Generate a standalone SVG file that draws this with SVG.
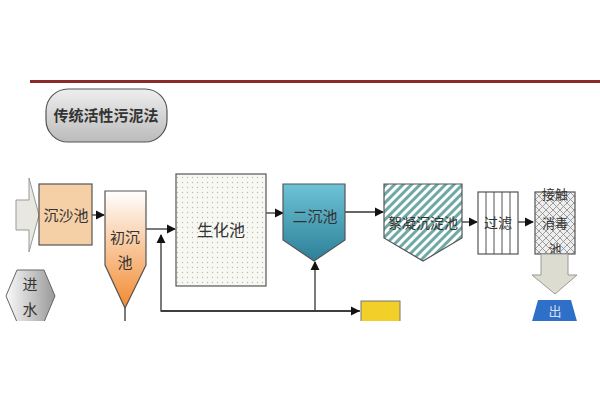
<svg xmlns="http://www.w3.org/2000/svg" width="600" height="400" viewBox="0 0 600 400">
<style>
text{font-family:"Noto Sans CJK SC","Liberation Sans",sans-serif;fill:#333;text-anchor:middle}
.ln{stroke:#333;stroke-width:1.3;fill:none}
.bx{stroke:#555;stroke-width:1.2}
</style>
<defs>
<marker id="ah" viewBox="0 0 10 10" refX="9" refY="5" markerWidth="7" markerHeight="7" orient="auto"><path d="M0,0L10,5L0,10z" fill="#111"/></marker>
<pattern id="dots" width="5" height="5" patternUnits="userSpaceOnUse"><rect width="5" height="5" fill="#f8f8f2"/><circle cx="2.5" cy="2.5" r="0.7" fill="#bbb"/></pattern>
<pattern id="hatch" width="6" height="6" patternUnits="userSpaceOnUse" patternTransform="rotate(45)"><rect width="6" height="6" fill="#fff"/><rect width="3" height="6" fill="#6fa9a6"/></pattern>
<pattern id="cross" width="7" height="7" patternUnits="userSpaceOnUse"><rect width="7" height="7" fill="#eee"/><path d="M0,0L7,7M7,0L0,7" stroke="#888" stroke-width="0.8"/></pattern>
<linearGradient id="og" x1="0" y1="0" x2="0" y2="1"><stop offset="0" stop-color="#fff"/><stop offset="1" stop-color="#f28a30"/></linearGradient>
<linearGradient id="bg" x1="0" y1="0" x2="0" y2="1"><stop offset="0" stop-color="#6ec3d6"/><stop offset="1" stop-color="#2c7f98"/></linearGradient>
<linearGradient id="gg" x1="0" y1="0" x2="0" y2="1"><stop offset="0" stop-color="#eee"/><stop offset="1" stop-color="#bbb"/></linearGradient>
<linearGradient id="hg" x1="0" y1="0" x2="1" y2="0"><stop offset="0" stop-color="#fafafa"/><stop offset="1" stop-color="#999"/></linearGradient>
</defs>
<rect width="600" height="400" fill="#fff"/>
<rect x="30" y="80" width="570" height="3" fill="#8b2a2a"/>
<g id="title"><rect x="46" y="89" width="121" height="53" rx="22" fill="url(#gg)" stroke="#555" stroke-width="1.2"/><text x="106" y="121" font-size="15" font-weight="bold">传统活性污泥法</text></g>
<g id="connectors">
<line class="ln" x1="92" y1="215" x2="104" y2="215" marker-end="url(#ah)"/>
<line class="ln" x1="146" y1="229" x2="175" y2="229" marker-end="url(#ah)"/>
<line class="ln" x1="125" y1="307" x2="125" y2="325"/>
<polyline class="ln" points="360,311 161,311 161,235" marker-end="url(#ah)"/>
<line class="ln" x1="161" y1="311" x2="359" y2="311" marker-end="url(#ah)"/>
<line class="ln" x1="315" y1="311" x2="315" y2="262" marker-end="url(#ah)"/>
<line class="ln" x1="266" y1="213" x2="283" y2="213" marker-end="url(#ah)"/>
<line class="ln" x1="345" y1="212" x2="383" y2="212" marker-end="url(#ah)"/>
<line class="ln" x1="462" y1="222" x2="477" y2="222" marker-end="url(#ah)"/>
<line class="ln" x1="518" y1="222" x2="533" y2="222" marker-end="url(#ah)"/>
</g>
<g id="inlet"><path d="M16,200H29V178L39,215L29,252V230H16Z" fill="#e8e8e0" stroke="#999"/></g>
<g id="sand"><rect class="bx" x="39" y="184" width="53" height="61" fill="#f5cfa6"/><text x="66" y="221" font-size="15">沉沙池</text></g>
<g id="primary"><path class="bx" d="M105,191H146V265L125,308L105,265Z" fill="url(#og)"/><text x="125" y="243" font-size="15">初沉</text><text x="125" y="268" font-size="15">池</text></g>
<g id="bio"><rect class="bx" x="176" y="174" width="90" height="112" fill="url(#dots)"/><text x="221" y="236" font-size="16">生化池</text></g>
<g id="secondary"><path class="bx" d="M283,184H345V240L314,261L283,240Z" fill="url(#bg)"/><text x="315" y="222" font-size="15">二沉池</text></g>
<g id="floc"><path class="bx" d="M384,184H462V238L423,261L384,238Z" fill="url(#hatch)"/><text x="423" y="228" font-size="14">絮凝沉淀池</text></g>
<g id="filter"><rect class="bx" x="478" y="192" width="40" height="62" fill="#fff"/><path d="M486,192V254M494,192V254M502,192V254M510,192V254" stroke="#555"/><text x="498" y="228" font-size="14">过滤</text></g>
<g id="disinfect"><rect class="bx" x="535" y="192" width="40" height="62" fill="url(#cross)"/><text x="555" y="199" font-size="13">接触</text><text x="555" y="228" font-size="13">消毒</text><text x="555" y="254" font-size="13">池</text></g>
<g id="outarrow"><path d="M541,254H568V275H577L555,294L532,275H541Z" fill="#dcdcd0" stroke="#999"/></g>
<g id="outlet"><path d="M538,300H571L578,325H531Z" fill="#2e6fc8"/><text x="555" y="316" font-size="13" style="fill:#dde">出</text></g>
<g id="yellow"><rect x="361" y="301" width="39" height="25" fill="#f3cf2a" stroke="#777"/></g>
<g id="inflow"><path d="M17,270H44L55,296L44,322H17L6,296Z" fill="url(#hg)" stroke="#666"/><text x="30" y="290" font-size="15">进</text><text x="30" y="315" font-size="15">水</text></g>
<rect x="0" y="321" width="600" height="79" fill="#fff"/>
</svg>
